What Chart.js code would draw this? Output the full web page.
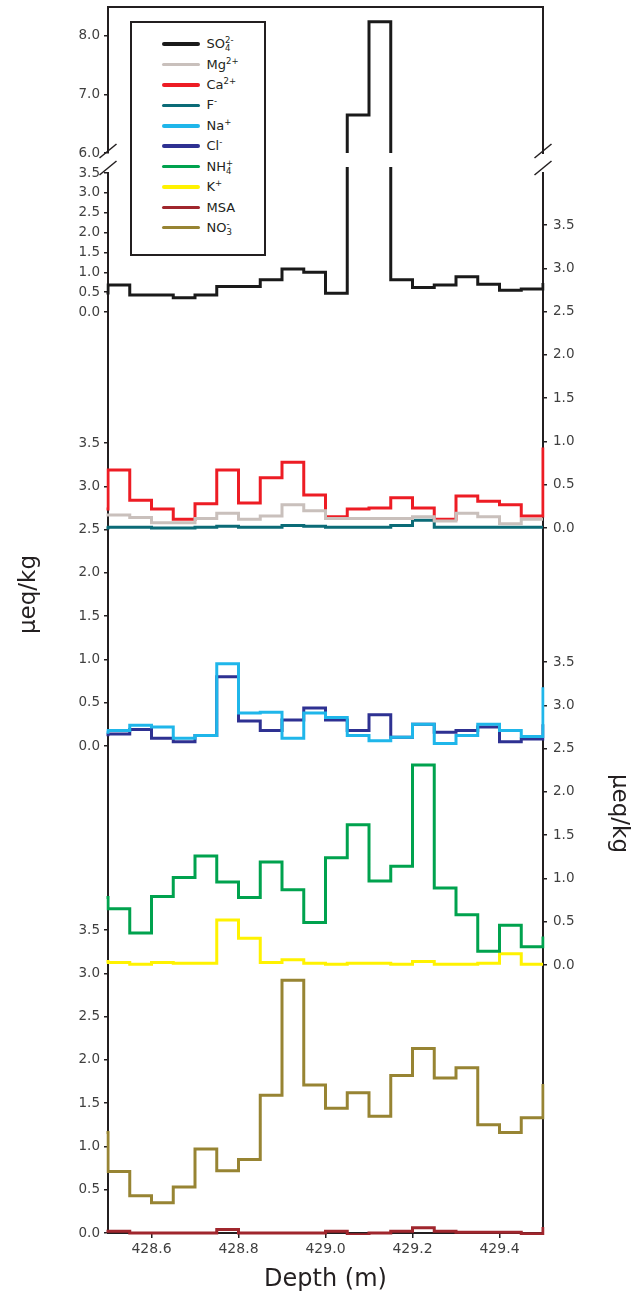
<!DOCTYPE html>
<html>
<head>
<meta charset="utf-8">
<script src="https://cdn.jsdelivr.net/npm/chart.js@4.4.1/dist/chart.umd.min.js"></script>
<style>
  html, body { margin: 0; padding: 0; background: #fff; }
  #wrap { position: relative; width: 643px; height: 1294px; }
  #legend {
    position: absolute; left: 130px; top: 21px; width: 132px; height: 220px;
    padding-top: 11px; border: 2.5px solid #231f20; background: #fff;
    font: 13px "DejaVu Sans", sans-serif; color: #231f20;
  }
  .item { display: flex; align-items: center; height: 20.4px; }
  .swatch { flex: none; width: 38px; height: 3.5px; margin-left: 29.5px; border-radius: 2px; }
  .lbl { margin-left: 7px; line-height: 13px; white-space: nowrap; }
  .ss { display: inline-block; vertical-align: -3px; font-size: 8.5px; line-height: 8px; }
  .ss span { display: block; }
</style>
</head>
<body>
<div id="wrap">
  <canvas id="ionChart" width="643" height="1294"></canvas>
  <div id="legend"></div>
</div>
<script>
// sample tops (m); first and last samples sit just outside the plotted depth range
const binStart = [428.45, 428.50, 428.55, 428.60, 428.65, 428.70, 428.75, 428.80, 428.85, 428.90, 428.95,
                  429.00, 429.05, 429.10, 429.15, 429.20, 429.25, 429.30, 429.35, 429.40, 429.45, 429.50];

// concentrations, µeq/kg
const so4 = [0.48, 0.68, 0.43, 0.43, 0.36, 0.43, 0.64, 0.64, 0.81, 1.08, 1.00, 0.47, 6.65, 8.24, 0.81, 0.62, 0.68, 0.89, 0.70, 0.55, 0.58, 0.73];
const mg  = [0.15, 0.15, 0.12, 0.06, 0.06, 0.11, 0.17, 0.10, 0.14, 0.27, 0.20, 0.11, 0.11, 0.11, 0.11, 0.13, 0.08, 0.17, 0.13, 0.05, 0.10, 0.10];
const ca  = [0.22, 0.67, 0.32, 0.22, 0.10, 0.28, 0.67, 0.29, 0.58, 0.76, 0.38, 0.13, 0.22, 0.23, 0.35, 0.23, 0.10, 0.37, 0.31, 0.27, 0.14, 0.93];
const fl  = [0.00, 0.01, 0.01, 0.00, 0.00, 0.01, 0.02, 0.01, 0.01, 0.03, 0.02, 0.01, 0.01, 0.01, 0.03, 0.09, 0.01, 0.01, 0.01, 0.01, 0.01, 0.01];
const na  = [0.16, 0.18, 0.24, 0.22, 0.09, 0.12, 0.95, 0.38, 0.39, 0.09, 0.38, 0.33, 0.12, 0.06, 0.10, 0.25, 0.03, 0.12, 0.25, 0.18, 0.11, 0.68];
const cl  = [0.13, 0.14, 0.19, 0.09, 0.05, 0.12, 0.80, 0.29, 0.18, 0.30, 0.44, 0.30, 0.18, 0.36, 0.10, 0.25, 0.16, 0.18, 0.22, 0.05, 0.08, 0.25];
const nh4 = [0.78, 0.65, 0.37, 0.79, 1.01, 1.26, 0.96, 0.78, 1.19, 0.87, 0.49, 1.24, 1.62, 0.97, 1.14, 2.31, 0.89, 0.58, 0.16, 0.46, 0.21, 0.33];
const kk  = [0.04, 0.03, 0.01, 0.03, 0.02, 0.02, 0.52, 0.31, 0.03, 0.06, 0.02, 0.01, 0.02, 0.02, 0.01, 0.04, 0.01, 0.01, 0.02, 0.13, 0.01, 0.01];
const msa = [0.02, 0.02, 0.00, 0.00, 0.00, 0.00, 0.04, 0.00, 0.00, 0.00, 0.00, 0.02, -0.02, 0.00, 0.02, 0.06, 0.02, 0.01, 0.01, 0.01, -0.01, 0.07];
const no3 = [1.16, 0.71, 0.43, 0.35, 0.53, 0.97, 0.72, 0.85, 1.59, 2.92, 1.71, 1.44, 1.62, 1.35, 1.82, 2.13, 1.79, 1.91, 1.25, 1.16, 1.33, 1.72];

const ionBase = ['SO', 'Mg', 'Ca', 'F', 'Na', 'Cl', 'NH', 'K', 'MSA', 'NO'];
const ionSup  = ['2-', '2+', '2+', '-', '+', '-', '+', '+', '', '-'];
const ionSub  = ['4', '', '', '', '', '', '4', '', '', '3'];
const ionData = [so4, mg, ca, fl, na, cl, nh4, kk, msa, no3];

const depthTicks = [428.6, 428.8, 429.0, 429.2, 429.4];
const ticksLow = [0, 0.5, 1.0, 1.5, 2.0, 2.5, 3.0, 3.5];
const ticksSO4High = [6.0, 7.0, 8.0];

// styling
const ionColors = ['#1a1a1a', '#c9c0bc', '#ed1c24', '#0b6b77', '#1fb6ea', '#2e3192', '#00a24e', '#fff200', '#a0262d', '#978433'];
const ionAxis = ['ySO4', 'yCa', 'yCa', 'yCa', 'yNaCl', 'yNaCl', 'yNH4', 'yNH4', 'yNO3', 'yNO3'];
const leftBands  = [146, 20, 139, 131, 303, 184, 303];   // px heights of the stacked left axes
const rightBands = [146, 20, 52, 303, 134, 303, 268];
const ink = '#231f20';
const fam = 'DejaVu Sans';

function steps(values) {
  return values.map((v, i) => ({x: binStart[i], y: v}));
}

function fixWidth(w) {
  return s => { s.width = w; s.paddingTop = 0; s.paddingBottom = 0; };
}

function blankAxis(position, band, weight, border) {
  return {
    type: 'linear', position, stack: 'ion', stackWeight: band, weight,
    min: 0, max: 1,
    ticks: {display: false},
    grid: {display: false},
    border: {display: border, color: ink, width: 2},
    afterFit: fixWidth(position === 'left' ? 108 : 100)
  };
}

function valueAxis(position, band, weight, min, max, tickValues, title) {
  const left = position === 'left';
  return {
    type: 'linear', position, stack: 'ion', stackWeight: band, weight, min, max,
    afterBuildTicks: s => { s.ticks = tickValues.map(v => ({value: v})); },
    ticks: {autoSkip: false, font: {family: fam, size: 13.5}, color: '#3f3f3f', padding: left ? 4 : 6,
            callback: v => v.toFixed(1)},
    grid: {display: true, drawOnChartArea: false, tickLength: 4, color: ink, lineWidth: 1.5},
    border: {display: true, color: ink, width: 2},
    title: {display: !!title, text: title || '', color: ink, font: {family: fam, size: 23},
            padding: {top: left ? 15 : 10, bottom: 0}},
    afterFit: fixWidth(left ? 108 : 100)
  };
}

// each line is clipped to the box of its own y axis
const lineClip = {left: 1.5, right: 1.5, top: 2, bottom: 2};

const datasets = ionData.map((vals, i) => ({
  label: ionBase[i] + ionSub[i] + ionSup[i],
  data: steps(vals),
  xAxisID: 'x',
  yAxisID: ionAxis[i],
  borderColor: ionColors[i],
  borderWidth: 3,
  stepped: 'before',
  pointRadius: 0,
  pointHitRadius: 0,
  borderJoinStyle: 'miter',
  clip: i === 0 ? {left: 1.5, right: 1.5, top: 6, bottom: 2} : lineClip
}));
// SO4 peak above the axis break
datasets.splice(1, 0, {
  label: 'SO4 (break)',
  data: steps(so4),
  xAxisID: 'x',
  yAxisID: 'ySO4High',
  borderColor: ionColors[0],
  borderWidth: 3,
  stepped: 'before',
  pointRadius: 0,
  pointHitRadius: 0,
  borderJoinStyle: 'miter',
  clip: {left: 1.5, right: 1.5, top: 0, bottom: 0}
});

const breakMarks = {
  id: 'breakMarks',
  afterDraw(chart) {
    const {ctx, chartArea} = chart;
    const brk = chart.scales.yBrkL;
    ctx.save();
    ctx.strokeStyle = ink;
    ctx.lineWidth = 1.5;
    [chartArea.left, chartArea.right].forEach(x => {
      [brk.top - 2, brk.bottom - 5].forEach(y => {
        ctx.beginPath();
        ctx.moveTo(x - 8.5, y + 7);
        ctx.lineTo(x + 8.5, y - 7);
        ctx.stroke();
      });
    });
    ctx.restore();
  }
};

new Chart(document.getElementById('ionChart'), {
  type: 'line',
  data: {datasets},
  plugins: [breakMarks],
  options: {
    responsive: false,
    animation: false,
    layout: {padding: {top: 7, left: 0, right: 0, bottom: 0}},
    plugins: {legend: {display: false}, tooltip: {enabled: false}},
    scales: {
      x: {
        type: 'linear', position: 'bottom', min: 428.5, max: 429.5,
        afterBuildTicks: s => { s.ticks = depthTicks.map(v => ({value: v})); },
        ticks: {autoSkip: false, maxRotation: 0, font: {family: fam, size: 14}, color: '#3f3f3f', padding: 3,
                callback: v => v.toFixed(1)},
        grid: {display: true, drawOnChartArea: false, tickLength: 5, color: ink, lineWidth: 1.5},
        border: {display: true, color: ink, width: 2},
        title: {display: true, text: 'Depth (m)', color: ink, font: {family: fam, size: 24}, padding: {top: 0, bottom: 0}},
        afterFit: s => { s.height = 61; s.paddingLeft = 0; s.paddingRight = 0; }
      },
      xTop: {
        type: 'linear', position: 'top', min: 428.5, max: 429.5,
        ticks: {display: false}, grid: {display: false},
        border: {display: true, color: ink, width: 2},
        afterFit: s => { s.height = 0; s.paddingLeft = 0; s.paddingRight = 0; }
      },
      ySO4High: valueAxis('left', leftBands[0], 7, 6, 8.49, ticksSO4High),
      yBrkL: blankAxis('left', leftBands[1], 6, false),
      ySO4: valueAxis('left', leftBands[2], 5, 0, 3.5, ticksLow),
      yGapL1: blankAxis('left', leftBands[3], 4, true),
      yNaCl: valueAxis('left', leftBands[4], 3, 0, 3.5, ticksLow, 'µeq/kg'),
      yGapL2: blankAxis('left', leftBands[5], 2, true),
      yNO3: valueAxis('left', leftBands[6], 1, 0, 3.5, ticksLow),
      yGapR0: blankAxis('right', rightBands[0], 1, true),
      yBrkR: blankAxis('right', rightBands[1], 2, false),
      yGapR1: blankAxis('right', rightBands[2], 3, true),
      yCa: valueAxis('right', rightBands[3], 4, 0, 3.5, ticksLow),
      yGapR2: blankAxis('right', rightBands[4], 5, true),
      yNH4: valueAxis('right', rightBands[5], 6, 0, 3.5, ticksLow, 'µeq/kg'),
      yGapR3: blankAxis('right', rightBands[6], 7, true)
    }
  }
});

// legend box with stacked super/subscripts
const legend = document.getElementById('legend');
ionBase.forEach((base, i) => {
  const row = document.createElement('div');
  row.className = 'item';
  const script = (ionSup[i] || ionSub[i])
    ? '<span class="ss"><span>' + (ionSup[i] || '&nbsp;') + '</span><span>' + (ionSub[i] || '&nbsp;') + '</span></span>'
    : '';
  row.innerHTML = '<span class="swatch" style="background:' + ionColors[i] + '"></span>' +
                  '<span class="lbl">' + base + script + '</span>';
  legend.appendChild(row);
});
</script>
</body>
</html>
